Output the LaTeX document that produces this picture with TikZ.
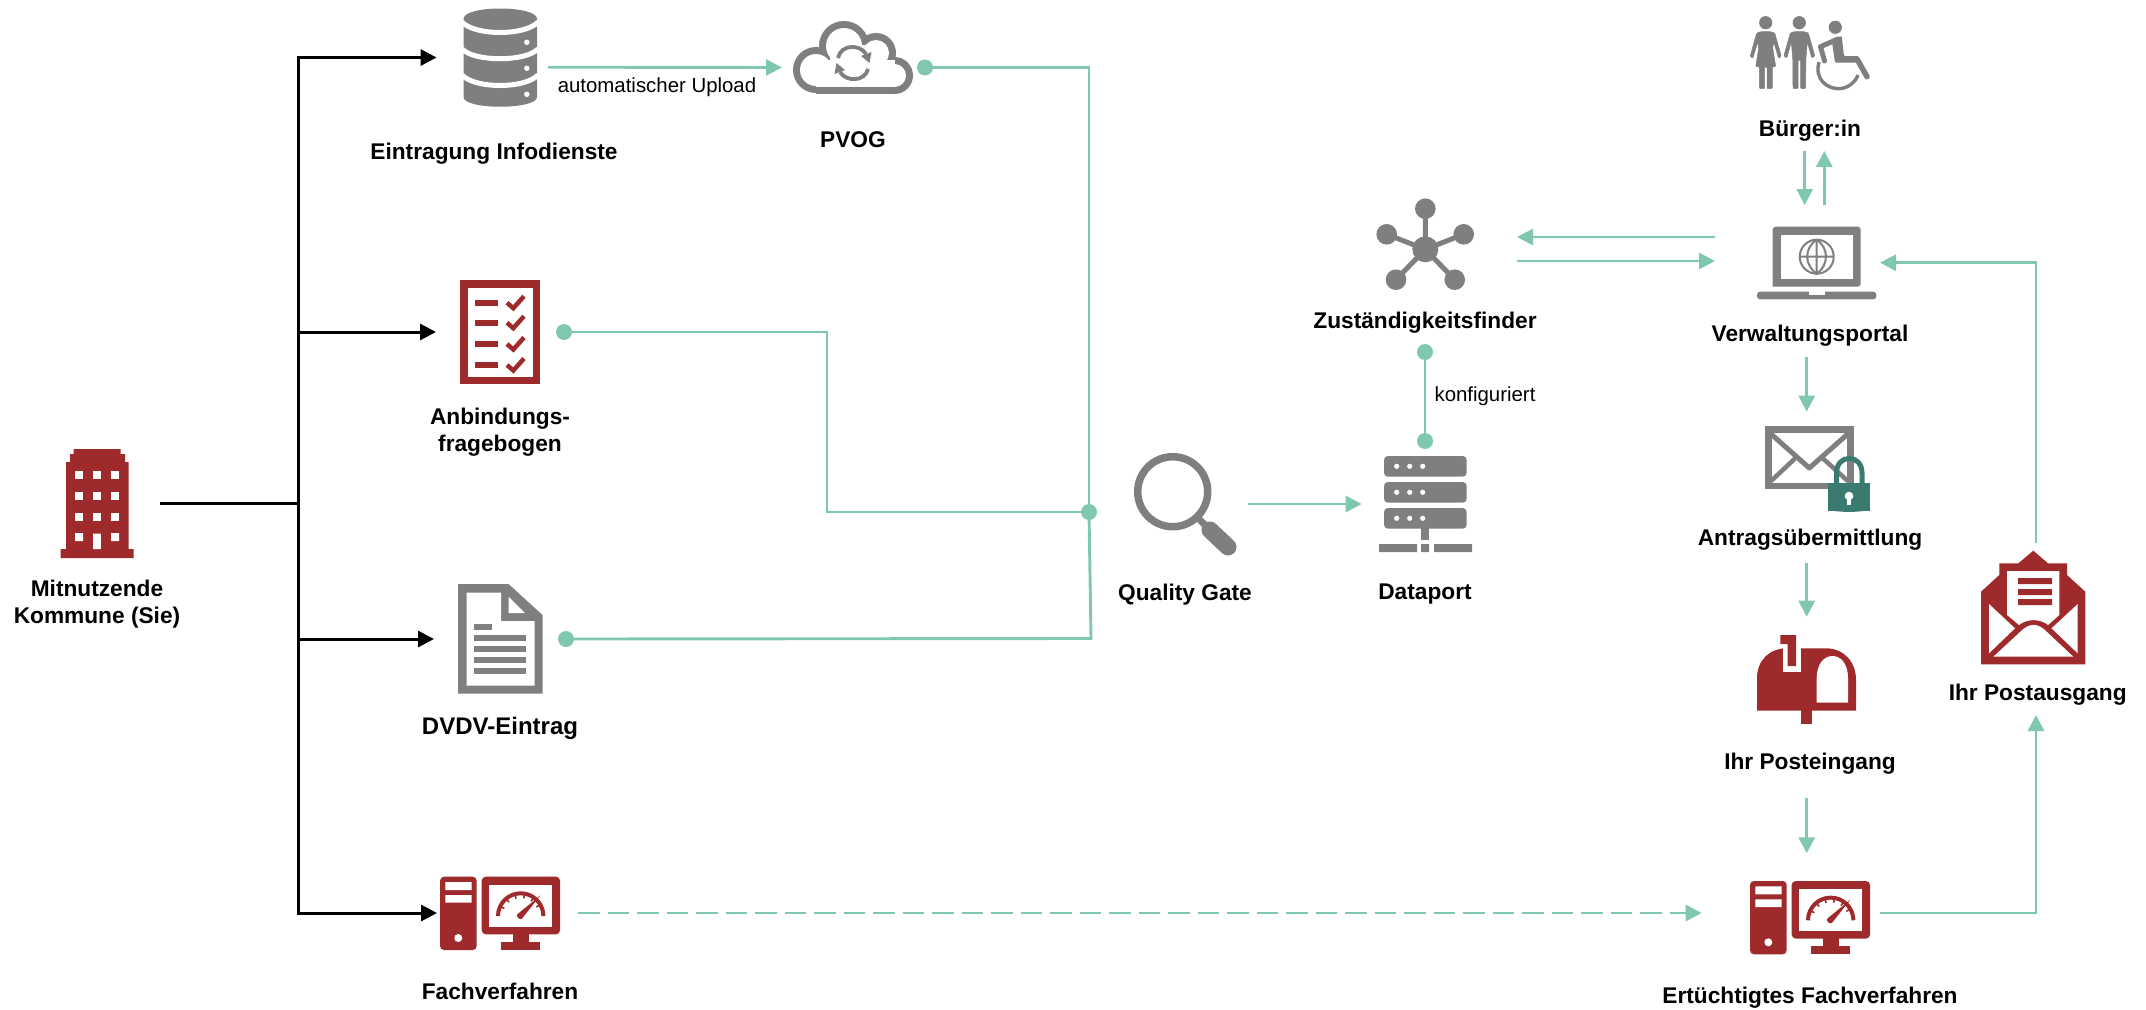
\documentclass[tikz,border=0pt]{standalone}
\usepackage{fontspec}
\setmainfont{Liberation Sans}
\usetikzlibrary{arrows.meta,calc}
\definecolor{kred}{HTML}{9E2A2B}
\definecolor{kgrey}{HTML}{7F7F7F}
\definecolor{kgreen}{HTML}{7FC8AE}
\definecolor{kteal}{HTML}{3A7A70}
\newcommand\compIcon[2]{%
 \begin{scope}[shift={(#1,#2)}]
  \fill[kred,rounded corners=4] (440,876.7) rectangle (476.7,950);
  \fill[white] (445.3,882) rectangle (471.7,890) (445.3,895) rectangle (471.7,902.7);
  \fill[white] (458.3,938) circle (4);
  \fill[kred,rounded corners=4] (481.7,876.7) rectangle (560,934.3);
  \fill[white] (489.3,884.7) rectangle (552.3,926.7);
  \fill[kred] (512.7,933) rectangle (528.7,943);
  \fill[kred] (501,942) rectangle (540,950);
  \draw[kred,line width=4] (498,916) .. controls (498,903.5) and (508.2,893.3) .. (520.7,893.3) .. controls (533.2,893.3) and (543.4,903.5) .. (543.4,916);
  \foreach \a in {155,130,105,80,55,30}{\draw[kred,line width=1.6] ($(520.7,916)+(-\a:21)$) -- ($(520.7,916)+(-\a:18)$);}
  \fill[kred] (517.3,914.3) -- (540.5,895.3) -- (522,918.5) .. controls (520,920.5) and (515.5,916.5) .. cycle;
 \end{scope}}
\tikzset{
 hub/.style={inner sep=0,outer sep=0,draw=none,fill=none},
 lbl/.style={font=\fontsize{22.7}{27}\selectfont\bfseries,align=center,inner sep=0,anchor=base},
 sublbl/.style={font=\fontsize{20.4}{24}\selectfont,inner sep=0,anchor=base},
 blackflow/.style={black,line width=3,-{Triangle[length=16pt,width=16pt]}},
 blackline/.style={black,line width=3},
 flow/.style={kgreen,line width=2.9,-{Triangle[length=16pt,width=16pt]}},
 flowline/.style={kgreen,line width=2.9},
 dashflow/.style={flow,dash pattern=on 21.5pt off 8pt},
 dot/.style={circle,fill=kgreen,inner sep=0,minimum size=16pt,draw=none},
}
\begin{document}
\begin{tikzpicture}[x=1pt,y=-1pt]
\useasboundingbox (0,0) rectangle (2146,1009);
% ---------- icons ----------
% building
\fill[kred] (73.5,449) -- (120.6,449) -- (120.6,454) -- (125,454) -- (125,462) -- (128.5,462) -- (128.5,549) -- (133.6,549) -- (133.6,558) -- (60.5,558) -- (60.5,549) -- (66,549) -- (66,462) -- (70,462) -- (70,454) -- (73.5,454) -- cycle;
\foreach \yy in {475,496,516.7}{\foreach \xx in {79,97,115}{\fill[white] (\xx-4,\yy-4) rectangle (\xx+4,\yy+4);}}
\fill[white] (75,533) rectangle (83,541) (111,533) rectangle (119,541) (93.2,533.5) rectangle (100.8,549);
% database
\fill[kgrey] (463.5,19) .. controls (463.5,5) and (537,5) .. (537,19) -- (537,97) .. controls (537,110) and (463.5,110) .. (463.5,97) -- cycle;
\draw[white,line width=5] (462,22) .. controls (475,36) and (525,36) .. (538,22);
\draw[white,line width=5] (462,49) .. controls (475,62) and (525,62) .. (538,49);
\draw[white,line width=5] (462,75) .. controls (475,89) and (525,89) .. (538,75);
\fill[white] (526.8,42.3) circle (2.7) (526.8,68.3) circle (2.7) (526.8,94.3) circle (2.7);
% checklist
\fill[kred] (460,280) rectangle (540.3,384.3);
\fill[white] (467.7,288) rectangle (533,376.7);
\foreach \yy in {302.7,322.7,344,365}{
 \fill[kred] (475,\yy-3) rectangle (498,\yy+3);
 \draw[kred,line width=4.5] (507,\yy) -- (513.3,\yy+5.5) -- (524,\yy-6.5);}
% document
\fill[kgrey] (458,584) -- (508.5,584) -- (542.5,615) -- (542.5,693.6) -- (458,693.6) -- cycle;
\fill[white] (466.6,592.7) -- (501,592.7) -- (501,621) -- (534.6,621) -- (534.6,685.7) -- (466.6,685.7) -- cycle;
\fill[white] (508.5,596.7) -- (525,613) -- (508.5,613) -- cycle;
\fill[kgrey] (474,624) rectangle (492,630);
\foreach \yy in {637.7,649,660,671}{\fill[kgrey] (474,\yy-3) rectangle (526,\yy+3);}
% computers
\compIcon{0}{0}
\compIcon{1310}{4.3}
% cloud
\fill[kgrey] (816,70) circle (23) (844,46) circle (25) (876,53) circle (20) (894.5,75.5) circle (18.5);
\fill[kgrey] (816,70) rectangle (894.5,94);
\fill[white] (816,70) circle (16) (844,46) circle (18) (876,53) circle (13) (894.5,75.5) circle (11.5);
\fill[white] (816,60) rectangle (894.5,87);
\fill[white] (830,45) rectangle (880,62);
\draw[kgrey,line width=3.8] (838,58) .. controls (841,44) and (860,44) .. (866,54);
\fill[kgrey] (861,56) -- (871.5,52) -- (869.5,63) -- cycle;
\draw[kgrey,line width=3.8] (868,69) .. controls (865,82) and (846,82) .. (840,72);
\fill[kgrey] (845,70) -- (834.5,74) -- (836.5,63) -- cycle;
% magnifier
\draw[kgrey,line width=7.5] (1172.7,491.7) circle (35);
\draw[kgrey,line width=7] (1196,516) -- (1210,530);
\draw[kgrey,line width=17,line cap=round] (1210,530) -- (1228,547);
% server
\foreach \yy in {456,482,508}{
 \fill[kgrey,rounded corners=4] (1384,\yy) rectangle (1466.7,\yy+20.7);
 \foreach \xx in {1396.7,1409.7,1422.7}{\fill[white] (\xx,\yy+10.3) circle (2.6);}}
\fill[kgrey] (1421,528) rectangle (1429,540);
\fill[kgrey] (1379,544) rectangle (1417,552) (1421,544) rectangle (1429,552) (1434,544) rectangle (1472,552);
% network
\draw[kgrey,line width=5] (1425.3,249.3) -- (1425.3,208.7) (1425.3,249.3) -- (1386.7,234.3) (1425.3,249.3) -- (1463.7,234.3) (1425.3,249.3) -- (1396,279.7) (1425.3,249.3) -- (1454.7,279.7);
\fill[kgrey] (1425.3,249.3) circle (13) (1425.3,208.7) circle (10.3) (1386.7,234.3) circle (10.3) (1463.7,234.3) circle (10.3) (1396,279.7) circle (10.3) (1454.7,279.7) circle (10.3);
% people
\fill[kgrey] (1765.7,22.7) circle (6.6) (1799.3,22.7) circle (6.6) (1835.3,27.3) circle (6.6);
\begin{scope}[shift={(1765.7,0)}]
\filldraw[kgrey,line width=0.5,rounded corners=1] (-9,33) -- (-15.5,56) -- (-13,58.5) -- (-8,42) -- (-7,48) -- (-10,66.7) -- (-6.3,66.7) -- (-6.3,88.7) -- (-1,88.7) -- (-1,66.7) -- (1.3,66.7) -- (1.3,88.7) -- (6.7,88.7) -- (6.7,66.7) -- (10,66.7) -- (7,48) -- (8,42) -- (13,58.5) -- (15.5,56) -- (9,33) -- (5,31.7) -- (-5,31.7) -- cycle;
\end{scope}
\begin{scope}[shift={(1799.3,0)}]
\filldraw[kgrey,line width=0.5,rounded corners=1] (-9,33) -- (-15.5,56) -- (-12.5,58) -- (-8,42) -- (-6.5,60) -- (-6.3,88.7) -- (-1.3,88.7) -- (-1.3,60) -- (1.3,60) -- (1.3,88.7) -- (6.3,88.7) -- (6.5,60) -- (8,42) -- (12.5,58) -- (15.5,56) -- (9,33) -- (5,31.7) -- (-5,31.7) -- cycle;
\end{scope}
% wheelchair
\fill[kgrey,rounded corners=1] (1831.7,40) -- (1841.7,36) -- (1844,56) -- (1858,56) -- (1860,62.7) -- (1835,62.7) -- cycle;
\draw[kgrey,line width=5,line cap=round,line join=round] (1838,39) -- (1820.5,46.7) -- (1824.5,61);
\draw[kgrey,line width=5.5,line cap=round] (1857,59) -- (1867,76.7);
\draw[kgrey,line width=3.4] (1819,62) .. controls (1814,80) and (1828,88.7) .. (1838.3,88.7) .. controls (1847,88.7) and (1855,83) .. (1858,75);
% laptop
\fill[kgrey,rounded corners=3] (1772.7,286.7) -- (1772.7,226.7) -- (1860.7,226.7) -- (1860.7,286.7) [sharp corners] -- cycle;
\fill[white] (1780.7,234.7) rectangle (1853.3,278.7);
\fill[kgrey,rounded corners=3] (1757,291.7) -- (1876.3,291.7) -- (1876.3,299.3) -- (1757,299.3) -- cycle;
\fill[white] (1809,291) rectangle (1824.7,294.7);
\draw[kgrey,line width=2] (1816.7,256.7) circle (17) (1816.7,239.7) -- (1816.7,273.7) (1799.7,256.7) -- (1833.7,256.7);
\draw[kgrey,line width=2] (1816.7,239.7) .. controls (1804,248) and (1804,265) .. (1816.7,273.7) .. controls (1829,265) and (1829,248) .. (1816.7,239.7);
% envelope + lock
\fill[kgrey] (1765,426.3) rectangle (1853.7,489);
\fill[white] (1771.7,432.7) rectangle (1847,482.7);
\draw[kgrey,line width=5,line join=round] (1771,434) -- (1809.3,468) -- (1847.7,434);
\draw[kgrey,line width=4.5] (1771,481) -- (1795,458.5) (1823,458.5) -- (1847.7,481);
\draw[kteal,line width=5] (1836.5,483) -- (1836.5,473) .. controls (1836.5,453.5) and (1862,453.5) .. (1862,473) -- (1862,483);
\fill[kteal] (1828.3,482.7) rectangle (1870,510.5);
\fill[kteal] (1828.3,510) .. controls (1840,512.5) and (1858,512.5) .. (1870,510) -- cycle;
\fill[white] (1849,496) circle (4.3);
\fill[white] (1847.2,497) rectangle (1850.8,505);
% mailbox
\fill[kred] (1757,710.7) -- (1757,678) .. controls (1757,660) and (1770,648.3) .. (1786,648.3) -- (1826,648.3) .. controls (1844,648.3) and (1856,662) .. (1856,680) -- (1856,710.7) -- cycle;
\fill[kred] (1801.3,705) rectangle (1812,723.7);
\fill[white] (1816.7,702.7) -- (1816.7,678) .. controls (1816.7,664) and (1824,656) .. (1832.5,656) .. controls (1841,656) and (1848,664) .. (1848,678) -- (1848,702.7) -- cycle;
\fill[white] (1783.3,644) rectangle (1801.3,671.7);
\fill[white] (1775,635) rectangle (1801.3,648.3);
\fill[kred] (1780.3,635) -- (1796,635) -- (1796,666) -- (1787.7,666) -- (1787.7,644) -- (1780.3,644) -- cycle;
% open envelope
\fill[kred] (2033.3,550.7) -- (2048,563.3) -- (2067,563.3) -- (2067,575) -- (2085.3,591.7) -- (2085.3,664.3) -- (1981,664.3) -- (1981,591.7) -- (1999.3,575) -- (1999.3,563.3) -- (2018.3,563.3) -- cycle;
\fill[white] (2007,571) -- (2059.3,571) -- (2059.3,615) -- (2048,625) .. controls (2040,618.5) and (2027,618.5) .. (2019,625) -- (2007,615) -- cycle;
\fill[white] (1989,604) -- (2015,628.3) -- (1989,653.3) -- cycle;
\fill[white] (2077.7,604) -- (2051.5,628.3) -- (2077.7,653.3) -- cycle;
\fill[white] (1993.3,656.7) -- (2020,632) .. controls (2029,622.5) and (2038,622.5) .. (2047,632) -- (2073.3,656.7) -- cycle;
\fill[kred] (2018,578) rectangle (2052,584) (2018,589) rectangle (2052,595) (2018,599) rectangle (2052,605);

% ---------- anchor nodes of the icons ----------
\node[hub,minimum width=126pt,minimum height=120pt] (bld) at (97,503) {};
\node[hub,minimum width=126.8pt,minimum height=100pt] (db) at (500,57.5) {};
\node[hub,minimum width=128pt,minimum height=100pt] (chk) at (500,332) {};
\node[hub,minimum width=132pt,minimum height=100pt] (doc) at (500,639) {};
\node[hub,minimum width=141pt,minimum height=74pt] (fach) at (507.5,913) {};
\node[hub,minimum width=143pt,minimum height=74pt] (pvog) at (853.5,67.5) {};
\node[hub,minimum width=113.7pt,minimum height=90pt] (qg) at (1191.2,504) {};
\node[hub,minimum width=126.6pt,minimum height=126pt] (dp) at (1425,504) {};
\node[hub,minimum width=184pt,minimum height=206pt] (zf) at (1425,249) {};
\node[hub,minimum width=165pt,minimum height=152pt] (vp) at (1797.5,281) {};
\node[hub,minimum width=120pt,minimum height=132pt] (bg) at (1814.5,85) {};
\node[hub,minimum width=120pt,minimum height=151.6pt] (am) at (1806.7,487.5) {};
\node[hub,minimum width=120pt,minimum height=181.3pt] (pe) at (1806.7,707.35) {};
\node[hub,minimum width=178.3pt,minimum height=119.4pt] (ef) at (1790.85,913) {};
\node[hub,minimum width=120pt,minimum height=172pt] (pa) at (2036,629) {};
\coordinate (trunk) at (298,503);
\coordinate (bendA) at (827,332);
\coordinate (bendB) at (1091,638.5);

% ---------- connectors ----------
\draw[blackline] (bld.east) -- (trunk);
\draw[blackflow] (trunk) |- (db.west);
\draw[blackflow] (trunk) |- (chk.west);
\draw[blackflow] (trunk) |- (doc.west);
\draw[blackflow] (trunk) |- (fach.west);
\node[dot] (jn) at (1089,512) {};
\draw[flow] ([shift={(-15.4,9.7)}]db.east) -- (pvog.west);
\node[dot] (d1) at (pvog.east) {};
\node[dot] (d2) at (chk.east) {};
\node[dot] (d3) at (doc.east) {};
\draw[flowline] (d1.center) -| (jn.center);
\draw[flowline] (d2.center) -- (bendA) -- (bendA |- jn.center) -- (jn.center);
\draw[flowline] (d3.center) -- (bendB) -- (jn.center);
\draw[flow] (qg.east) -- (dp.west);
\node[dot] (d4) at (dp.north) {};
\node[dot] (d5) at (zf.south) {};
\draw[flowline] (d4.center) -- (d5.center);
\draw[flow] ([shift={(0,-44)}]vp.west) -- ([shift={(0,-12)}]zf.east);
\draw[flow] ([shift={(0,12)}]zf.east) -- ([shift={(0,-20)}]vp.west);
\draw[flow] ([shift={(-9.8,0)}]bg.south) -- ([shift={(-9.8,0)}]bg.south |- vp.north);
\draw[flow] ([shift={(9.8,0)}]bg.south |- vp.north) -- ([shift={(9.8,0)}]bg.south);
\draw[flow] (vp.south -| am.north) -- (am.north);
\draw[flow] (am.south) -- (pe.north);
\draw[flow] (pe.south) -- (pe.south |- ef.north);
\draw[dashflow] (fach.east) -- (ef.west);
\draw[flow] (ef.east) -| (pa.south);
\draw[flow] (pa.north) |- ([shift={(0,-18.3)}]vp.east);

% ---------- labels ----------
\node[lbl] (tbld) at (97,623) {Mitnutzende\\Kommune (Sie)};
\node[lbl] (tdb) at (494,159) {Eintragung Infodienste};
\node[sublbl] (tup) at (657,92) {automatischer Upload};
\node[lbl] (tpvog) at (853,147) {PVOG};
\node[lbl] (tchk) at (500,451.5) {Anbindungs-\\fragebogen};
\node[lbl,font=\fontsize{24}{27}\selectfont\bfseries] (tdoc) at (500,734) {DVDV-Eintrag};
\node[lbl] (tfach) at (500,999) {Fachverfahren};
\node[lbl] (tqg) at (1185,600) {Quality Gate};
\node[lbl] (tdp) at (1425,599) {Dataport};
\node[lbl] (tzf) at (1425,328) {Zuständigkeitsfinder};
\node[sublbl] (tkf) at (1485,401) {konfiguriert};
\node[lbl] (tbg) at (1810,136) {Bürger:in};
\node[lbl] (tvp) at (1810,341) {Verwaltungsportal};
\node[lbl] (tam) at (1810,545) {Antragsübermittlung};
\node[lbl] (tpe) at (1810,769) {Ihr Posteingang};
\node[lbl] (tpa) at (2037.7,700.5) {Ihr Postausgang};
\node[lbl] (tef) at (1810,1003) {Ertüchtigtes Fachverfahren};
\end{tikzpicture}
\end{document}
